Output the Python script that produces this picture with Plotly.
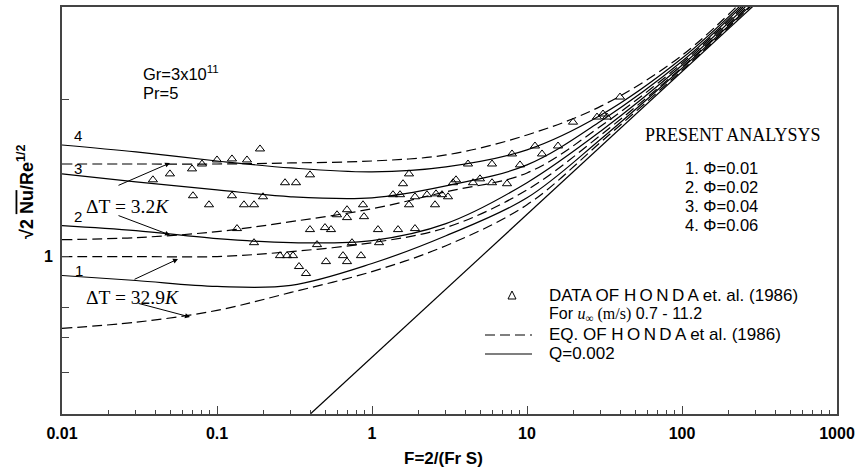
import plotly.graph_objects as go

# ---------------- data ----------------
F_grid = [0.01, 0.03, 0.1, 0.3, 1, 3, 10, 30, 100, 300]

# Present analysis, Q=0.002 (solid), curves 1..4 (Phi = 0.01, 0.02, 0.04, 0.06)
phi1_nu = [0.920, 0.900, 0.877, 0.881, 0.970, 1.096, 1.295, 1.678, 2.291, 3.086]
phi2_nu = [1.146, 1.121, 1.082, 1.063, 1.073, 1.156, 1.384, 1.738, 2.321, 3.141]
phi3_nu = [1.439, 1.389, 1.341, 1.301, 1.295, 1.365, 1.497, 1.816, 2.362, 3.197]
phi4_nu = [1.634, 1.585, 1.523, 1.477, 1.452, 1.484, 1.599, 1.864, 2.393, 3.225]

# Equation of Honda et al. (1986) (dashed)
honda_eq_a = [1.503, 1.503, 1.503, 1.510, 1.523, 1.564, 1.708, 1.939, 2.425, 3.268]
honda_eq_b = [1.077, 1.087, 1.116, 1.166, 1.234, 1.330, 1.445, 1.776, 2.342, 3.169]
honda_eq_c = [1.000, 1.000, 1.000, 1.022, 1.063, 1.136, 1.341, 1.708, 2.301, 3.113]
honda_eq_d = [0.729, 0.749, 0.789, 0.854, 0.936, 1.049, 1.256, 1.656, 2.271, 3.073]

# forced-convection asymptote (straight solid line)
asym_F = [0.4, 300]
asym_nu = [0.5, 3.046]

# Data of Honda et al. (1986)
honda_F = [0.1894, 0.1, 0.1249, 0.1561, 0.0800, 0.0690, 0.0497, 0.0386, 0.0700, 0.0888,
           0.1249, 0.1493, 0.1733, 0.1981, 0.2747, 0.3233, 0.1346, 0.1733, 0.2550, 0.2829,
           0.3093, 0.3381, 0.3752, 0.3981, 1.733, 1.585, 1.366, 1.516, 1.894, 2.263,
           2.588, 2.829, 3.093, 1.733, 2.550, 0.875, 0.5947, 0.690, 0.690, 0.888,
           0.398, 0.4974, 0.5438, 1.093, 1.472, 1.894, 0.4418, 0.743, 1.110, 0.5048,
           0.650, 0.690, 0.849, 4.164, 5.947, 8.004, 11.26, 15.85, 19.81, 3.332,
           3.483, 4.483, 4.974, 5.947, 7.430, 9.013, 12.50, 28.29, 30.93, 32.81,
           39.81]
honda_nu = [1.606, 1.530, 1.537, 1.530, 1.503, 1.471, 1.439, 1.402, 1.307, 1.256,
            1.307, 1.256, 1.256, 1.301, 1.384, 1.384, 1.131, 1.063, 1.004, 1.004,
            1.004, 0.957, 0.928, 1.433, 1.439, 1.378, 1.313, 1.313, 1.301, 1.313,
            1.318, 1.313, 1.301, 1.256, 1.256, 1.256, 1.202, 1.229, 1.187, 1.192,
            1.126, 1.136, 1.126, 1.126, 1.126, 1.131, 1.054, 1.063, 1.063, 0.978,
            1.004, 0.978, 1.004, 1.503, 1.503, 1.571, 1.627, 1.627, 1.807, 1.384,
            1.402, 1.384, 1.408, 1.384, 1.378, 1.497, 1.571, 1.848, 1.873, 1.848,
            2.018]

x_tick_vals = [0.01, 0.1, 1, 10, 100, 1000]
x_tick_text = ["0.01", "0.1", "1", "10", "100", "1000"]
y_tick_vals = [1]
y_tick_text = ["1"]
y_minor_vals = [0.6, 0.7, 0.8, 2]

# ---------------- figure ----------------
SANS = "Liberation Sans, Arial, sans-serif"
SERIF = "Liberation Serif, Times New Roman, serif"
DASH = "10px,5px"

fig = go.Figure()

for ys in [honda_eq_a, honda_eq_b, honda_eq_c, honda_eq_d]:
    fig.add_trace(go.Scatter(x=F_grid, y=ys, mode="lines", line_shape="spline",
                             line=dict(color="black", width=1.2, dash=DASH),
                             showlegend=False, hoverinfo="skip"))
for ys in [phi1_nu, phi2_nu, phi3_nu, phi4_nu]:
    fig.add_trace(go.Scatter(x=F_grid, y=ys, mode="lines", line_shape="spline",
                             line=dict(color="black", width=1.2),
                             showlegend=False, hoverinfo="skip"))
fig.add_trace(go.Scatter(x=asym_F, y=asym_nu, mode="lines",
                         line=dict(color="black", width=1.2),
                         showlegend=False, hoverinfo="skip"))
fig.add_trace(go.Scatter(x=honda_F, y=honda_nu, mode="markers",
                         marker=dict(symbol="triangle-up-open", size=8,
                                     color="black", line=dict(width=1, color="black")),
                         showlegend=False))

L, R, T, B = 62, 18, 7, 54
W, H = 855, 468
PW, PH = W - L - R, H - T - B


def P(px, py):
    return (px - L) / PW, (H - B - py) / PH


annotations = []


def txt(s, px, py, size, family=SANS, xanchor="left", color="black", angle=0):
    x, y = P(px, py)
    annotations.append(dict(text=s, x=x, y=y, xref="paper", yref="paper",
                            xanchor=xanchor, yanchor="middle", showarrow=False,
                            textangle=angle,
                            font=dict(size=size, family=family, color=color)))


def arrow(hx, hy, tx, ty):
    x, y = P(hx, hy)
    annotations.append(dict(text="", x=x, y=y, xref="paper", yref="paper",
                            ax=tx - hx, ay=ty - hy, showarrow=True,
                            arrowhead=2, arrowsize=1, arrowwidth=1, arrowcolor="black"))


txt("Gr=3x10<sup>11</sup>", 141, 73, 16.5)
txt("Pr=5", 141, 93, 16.5)
txt("4", 78, 135, 15, xanchor="center")
txt("3", 78, 169, 15, xanchor="center")
txt("2", 78, 217, 15, xanchor="center")
txt("1", 79, 270, 15, xanchor="center")
txt("ΔT = 3.2<i>K</i>", 84, 206, 19.5, family=SERIF)
txt("ΔT = 32.9<i>K</i>", 84, 297, 19.5, family=SERIF)
arrow(170, 163, 117, 186)
arrow(170, 235, 117, 215)
arrow(178, 259, 133, 280)
arrow(190, 317, 137, 303)

txt("PRESENT ANALYSYS", 732, 135, 18, family=SERIF, xanchor="center")
txt("1. Φ=0.01", 683, 168, 16.5)
txt("2. Φ=0.02", 683, 187, 16.5)
txt("3. Φ=0.04", 683, 206, 16.5)
txt("4. Φ=0.06", 683, 225, 16.5)

txt("DATA OF H\u2009O\u2009N\u2009D\u2009A et. al. (1986)", 547, 295, 17)
txt("For <span style='font-family:Liberation Serif'><i>u</i><sub>∞</sub> (m/s)</span> 0.7 - 11.2",
    547, 314, 16)
txt("EQ. OF H\u2009O\u2009N\u2009D\u2009A et al. (1986)", 547, 334, 17)
txt("Q=0.002", 547, 353, 17)

# axis titles
txt("<b>F=2/(Fr S)</b>", 443, 458, 17, xanchor="center")
txt("<b>√2 <span style='text-decoration:overline'>Nu</span>/Re<sup>1/2</sup></b>",
    25, 192, 18, xanchor="center", angle=-90)

shapes = []
x0, y0 = P(485, 335)
x1, _ = P(532, 335)
shapes.append(dict(type="line", xref="paper", yref="paper", x0=x0, x1=x1, y0=y0, y1=y0,
                   line=dict(color="black", width=1.2, dash=DASH)))
x0, y0 = P(485, 354)
x1, _ = P(532, 354)
shapes.append(dict(type="line", xref="paper", yref="paper", x0=x0, x1=x1, y0=y0, y1=y0,
                   line=dict(color="black", width=1.2)))
ax_, ay_ = P(508, 299)
bx_, by_ = P(516, 299)
cx_, cy_ = P(512, 291)
shapes.append(dict(type="path", xref="paper", yref="paper",
                   path=f"M {ax_} {ay_} L {bx_} {by_} L {cx_} {cy_} Z",
                   line=dict(color="black", width=1)))

x_minor = [k * d for d in [0.01, 0.1, 1, 10, 100] for k in range(2, 10)]

fig.update_layout(
    width=W, height=H,
    margin=dict(l=L, r=R, t=T, b=B, autoexpand=False),
    paper_bgcolor="white", plot_bgcolor="white",
    showlegend=False,
    annotations=annotations,
    shapes=shapes,
    xaxis=dict(type="log", range=[-2, 3], showgrid=False, zeroline=False, automargin=False,
               showline=True, linecolor="#444", linewidth=2, mirror=True,
               ticks="inside", ticklen=8, tickwidth=1, tickcolor="#444",
               tickmode="array", tickvals=x_tick_vals, ticktext=x_tick_text,
               ticklabelstandoff=4, ticklabeloverflow="allow",
               tickfont=dict(family=SANS, size=16, color="black", weight="bold"),
               minor=dict(tickmode="array", tickvals=x_minor, ticks="inside",
                          ticklen=4, tickcolor="#444", showgrid=False)),
    yaxis=dict(type="log", range=[-0.301, 0.4771], showgrid=False, zeroline=False, automargin=False,
               showline=True, linecolor="#444", linewidth=2, mirror=True,
               ticks="inside", ticklen=7, tickwidth=1, tickcolor="#444",
               tickmode="array", tickvals=y_tick_vals, ticktext=y_tick_text,
               ticklabelstandoff=4, ticklabeloverflow="allow",
               tickfont=dict(family=SANS, size=16, color="black", weight="bold"),
               minor=dict(tickmode="array", tickvals=y_minor_vals, ticks="inside",
                          ticklen=7, tickcolor="#444", showgrid=False)),
)

fig.write_html("out.html", config={"displayModeBar": False},
               post_script="document.body.style.margin='0px';")
